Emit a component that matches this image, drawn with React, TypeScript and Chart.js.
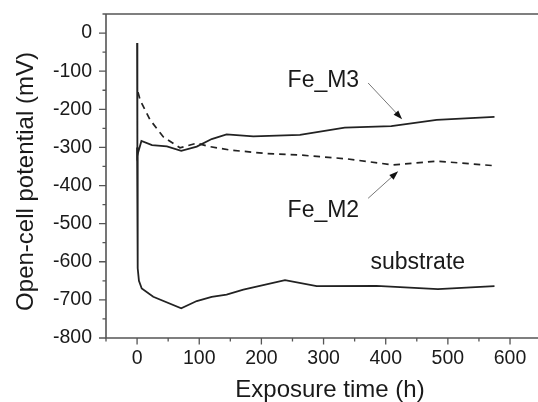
import React, { useEffect, useRef } from 'react';
import { Chart, registerables } from 'chart.js';

Chart.register(...registerables);

// ---- Data ----
const m3Hours = [0, 0.5, 7, 24, 48, 71, 96, 120, 144, 187, 262, 334, 409, 482, 575];
const m3Potential = [-26, -320, -283, -294, -297, -309, -298, -278, -266, -271, -267, -248, -244, -228, -220];

const m2Hours = [1.5, 5, 21, 42, 69, 96, 117, 150, 208, 262, 337, 412, 482, 575];
const m2Potential = [-155, -176, -228, -272, -301, -289, -298, -307, -316, -320, -330, -346, -336, -348];

const subHours = [0, 1, 3, 7.5, 26, 71, 96, 120, 144, 171, 238, 289, 385, 484, 575];
const subPotential = [-300, -617, -650, -670, -692, -722, -703, -692, -686, -673, -648, -664, -663, -672, -664];

const xMajorTicks = [0, 100, 200, 300, 400, 500, 600];
const xMinorTicks = [-50, 50, 150, 250, 350, 450, 550, 650];
const yMajorTicks = [0, -100, -200, -300, -400, -500, -600, -700, -800];
const yMinorTicks = [50, -50, -150, -250, -350, -450, -550, -650, -750];

const xTitle = 'Exposure time (h)';
const yTitle = 'Open-cell potential (mV)';

// annotation labels (data coordinates)
const labelTexts = ['Fe_M3', 'Fe_M2', 'substrate'];
const labelX = [299.7, 299.7, 451.6];
const labelY = [-142.7, -483, -618];
// arrows: from -> to (data coordinates)
const arrowFromX = [371.7, 371.7];
const arrowFromY = [-131, -433.5];
const arrowToX = [426.4, 420];
const arrowToY = [-226, -362.6];

const FONT = '"Liberation Sans", Arial, Helvetica, sans-serif';
const TEXT = '#1a1a1a';
const AXIS = '#555555';
const LINE = '#222222';

const zip = (xs: number[], ys: number[]) => xs.map((v, i) => ({ x: v, y: ys[i] }));

const framePlugin = {
  id: 'frame',
  afterDatasetsDraw(chart: any) {
    const { ctx, chartArea: a, scales } = chart;
    const x = scales.x;
    const y = scales.y;
    ctx.save();
    // axes frame
    ctx.strokeStyle = AXIS;
    ctx.lineWidth = 1.6;
    ctx.beginPath();
    ctx.moveTo(a.left, a.top);
    ctx.lineTo(a.right + 2, a.top);
    ctx.moveTo(a.left, a.top);
    ctx.lineTo(a.left, a.bottom);
    ctx.moveTo(a.left - 0.8, a.bottom);
    ctx.lineTo(a.right + 2, a.bottom);
    ctx.stroke();
    // tick marks
    ctx.lineWidth = 1.3;
    ctx.beginPath();
    xMajorTicks.forEach((v) => {
      const p = x.getPixelForValue(v);
      ctx.moveTo(p, a.bottom);
      ctx.lineTo(p, a.bottom + 6.5);
    });
    xMinorTicks.forEach((v) => {
      const p = x.getPixelForValue(v);
      ctx.moveTo(p, a.bottom);
      ctx.lineTo(p, a.bottom + 3.5);
    });
    yMajorTicks.forEach((v) => {
      const p = y.getPixelForValue(v);
      ctx.moveTo(a.left, p);
      ctx.lineTo(a.left - 7, p);
    });
    yMinorTicks.forEach((v) => {
      const p = y.getPixelForValue(v);
      ctx.moveTo(a.left, p);
      ctx.lineTo(a.left - 3.5, p);
    });
    ctx.stroke();

    // axis titles
    ctx.fillStyle = TEXT;
    ctx.font = `24px ${FONT}`;
    ctx.textAlign = 'center';
    ctx.textBaseline = 'alphabetic';
    ctx.fillText(xTitle, (a.left + a.right) / 2 + 8, a.bottom + 59);
    ctx.save();
    ctx.translate(a.left - 73, (a.top + a.bottom) / 2 + 5.5);
    ctx.rotate(-Math.PI / 2);
    ctx.fillText(yTitle, 0, 0);
    ctx.restore();

    // annotation labels
    ctx.font = `23px ${FONT}`;
    labelTexts.forEach((t, i) => {
      ctx.fillText(t, x.getPixelForValue(labelX[i]), y.getPixelForValue(labelY[i]));
    });

    // arrows
    arrowFromX.forEach((_, i) => {
      const x0 = x.getPixelForValue(arrowFromX[i]);
      const y0 = y.getPixelForValue(arrowFromY[i]);
      const x1 = x.getPixelForValue(arrowToX[i]);
      const y1 = y.getPixelForValue(arrowToY[i]);
      const ang = Math.atan2(y1 - y0, x1 - x0);
      const hl = 9;
      const hw = 3.2;
      ctx.strokeStyle = '#777';
      ctx.lineWidth = 1;
      ctx.beginPath();
      ctx.moveTo(x0, y0);
      ctx.lineTo(x1 - Math.cos(ang) * hl * 0.8, y1 - Math.sin(ang) * hl * 0.8);
      ctx.stroke();
      ctx.fillStyle = '#111';
      ctx.beginPath();
      ctx.moveTo(x1, y1);
      ctx.lineTo(
        x1 - Math.cos(ang) * hl - Math.sin(ang) * hw,
        y1 - Math.sin(ang) * hl + Math.cos(ang) * hw
      );
      ctx.lineTo(
        x1 - Math.cos(ang) * hl + Math.sin(ang) * hw,
        y1 - Math.sin(ang) * hl - Math.cos(ang) * hw
      );
      ctx.closePath();
      ctx.fill();
    });
    ctx.restore();
  },
};

export default function App() {
  const ref = useRef<HTMLCanvasElement | null>(null);

  useEffect(() => {
    if (!ref.current) return;
    const chart = new Chart(ref.current, {
      type: 'line',
      data: {
        datasets: [
          {
            label: 'Fe_M3',
            data: zip(m3Hours, m3Potential),
            borderColor: LINE,
            borderWidth: 1.8,
            pointRadius: 0,
            tension: 0,
            fill: false,
          },
          {
            label: 'Fe_M2',
            data: zip(m2Hours, m2Potential),
            borderColor: LINE,
            borderWidth: 1.7,
            borderDash: [6.5, 5],
            pointRadius: 0,
            tension: 0,
            fill: false,
          },
          {
            label: 'substrate',
            data: zip(subHours, subPotential),
            borderColor: LINE,
            borderWidth: 1.8,
            pointRadius: 0,
            tension: 0,
            fill: false,
          },
        ],
      },
      options: {
        responsive: false,
        animation: false,
        devicePixelRatio: 1,
        layout: { padding: { top: 14, left: 0, right: 0, bottom: 0 } },
        plugins: {
          legend: { display: false },
          tooltip: { enabled: false },
        },
        scales: {
          x: {
            type: 'linear',
            min: -50,
            max: 645,
            border: { display: false },
            grid: { display: false, drawTicks: false },
            afterBuildTicks: (s: any) => {
              s.ticks = xMajorTicks.map((v) => ({ value: v }));
            },
            afterFit: (s: any) => {
              s.height = 64;
              s.paddingLeft = 0;
              s.paddingRight = 0;
            },
            ticks: {
              autoSkip: false,
              maxRotation: 0,
              padding: 9,
              color: TEXT,
              font: { family: FONT, size: 19.5 },
              callback: (v: any) => String(v),
            },
          },
          y: {
            type: 'linear',
            min: -800,
            max: 50,
            border: { display: false },
            grid: { display: false, drawTicks: false },
            afterBuildTicks: (s: any) => {
              s.ticks = [...yMajorTicks].reverse().map((v) => ({ value: v }));
            },
            afterFit: (s: any) => {
              s.width = 106;
              s.paddingTop = 0;
              s.paddingBottom = 0;
            },
            ticks: {
              autoSkip: false,
              padding: 14,
              color: TEXT,
              font: { family: FONT, size: 19.5 },
              callback: (v: any) => String(v),
            },
          },
        },
      },
      plugins: [framePlugin],
    });
    return () => chart.destroy();
  }, []);

  return (
    <div style={{ position: 'fixed', left: 0, top: 0, width: 538, height: 402, background: '#fff' }}>
      <canvas ref={ref} width={538} height={402} style={{ display: 'block', width: 538, height: 402 }} />
    </div>
  );
}
